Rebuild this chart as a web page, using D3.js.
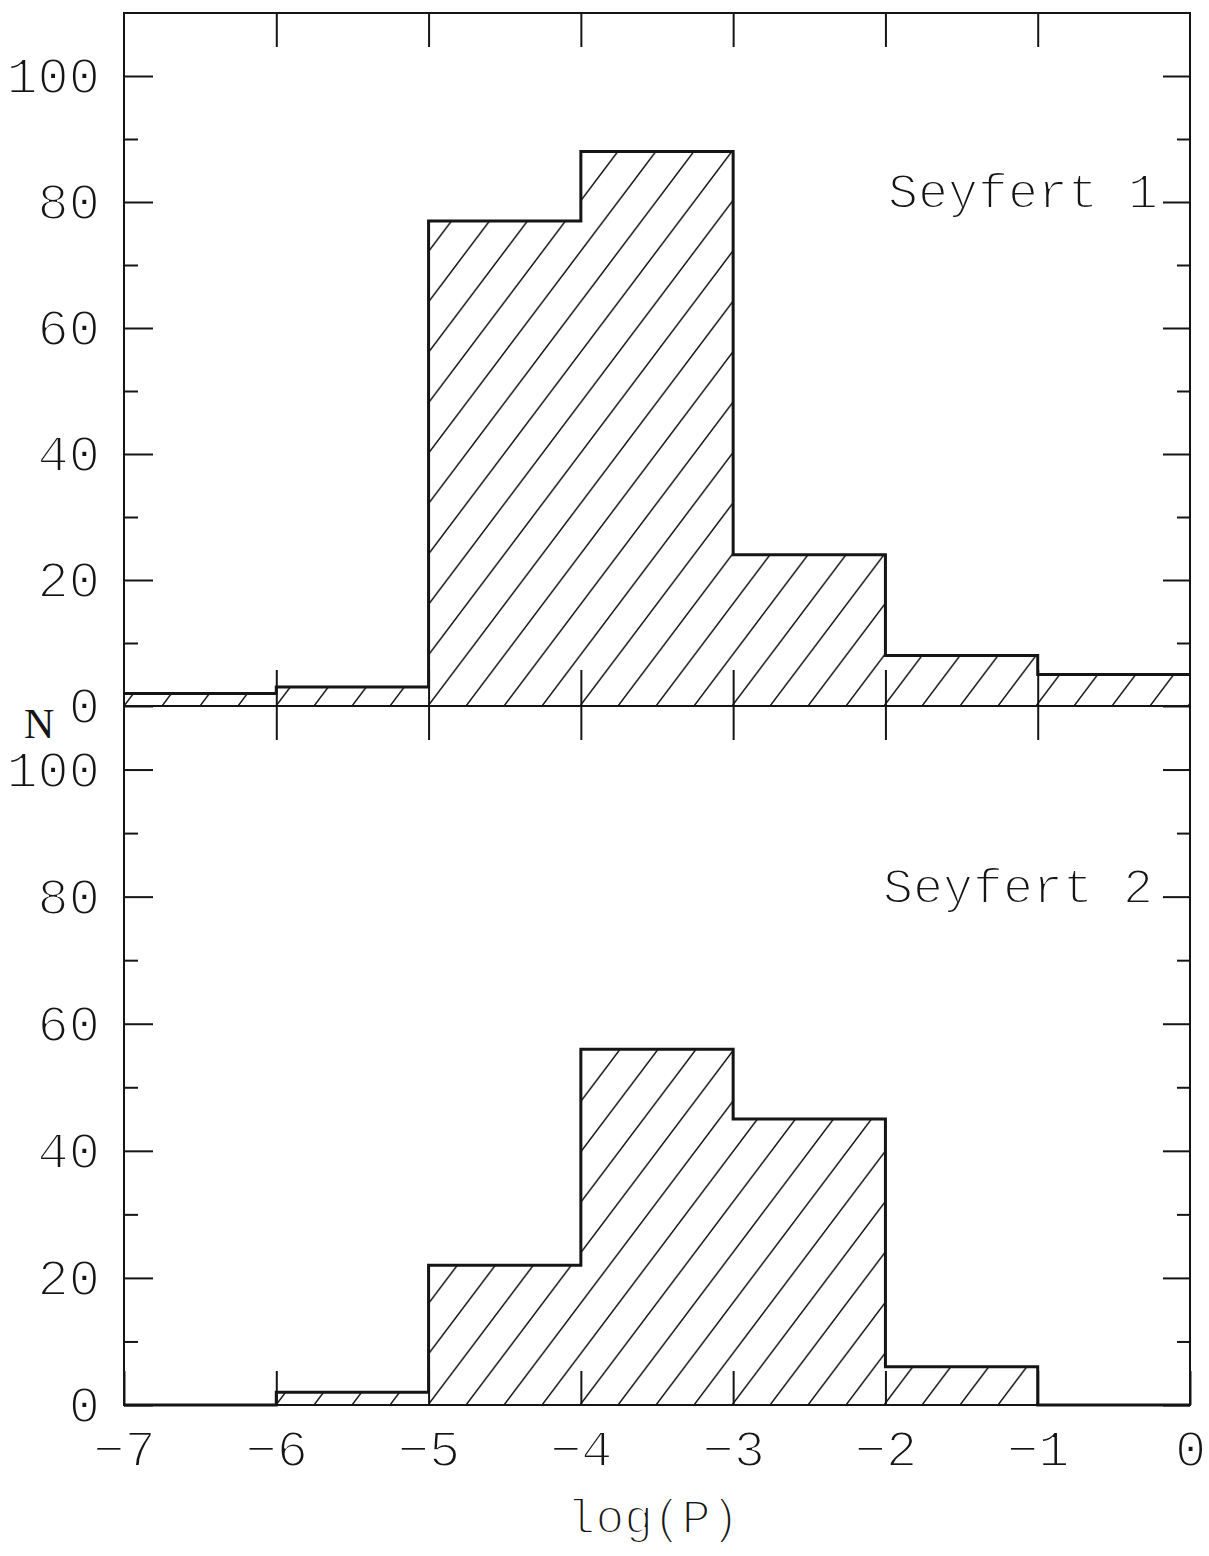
<!DOCTYPE html>
<html>
<head>
<meta charset="utf-8">
<script src="https://cdn.jsdelivr.net/npm/d3@7"></script>
<style>
  html, body { margin: 0; padding: 0; background: #fff; }
  svg { display: block; }
  .thin { stroke: #fff; stroke-width: 2px; paint-order: fill; }
</style>
</head>
<body>
<svg id="chart" width="1209" height="1556"></svg>
<script>
// ---- data ----
const binEdges = [-7, -6, -5, -4, -3, -2, -1, 0];
const seyfert1 = [2, 3, 77, 88, 24, 8, 5];
const seyfert2 = [0, 2, 22, 56, 45, 6, 0];
const panelNames = ["Seyfert 1", "Seyfert 2"];
const xTickValues = [-7, -6, -5, -4, -3, -2, -1, 0];
const xInnerTicks = [-6, -5, -4, -3, -2, -1];
const yMajor = [0, 20, 40, 60, 80, 100];
const yMinor = [10, 30, 50, 70, 90];
const xLabel = "log(P)";
const yLabel = "N";

// ---- layout ----
const W = 1209, H = 1556;
const left = 124, right = 1190;
const panels = [
  { name: panelNames[0], values: seyfert1, top: 13, bottom: 706, labelX: 888, labelY: 208, showX: false },
  { name: panelNames[1], values: seyfert2, top: 706, bottom: 1405, labelX: 883, labelY: 903, showX: true }
];
const ink = "#151515";
const font = "'Liberation Mono', 'DejaVu Sans Mono', monospace";

const svg = d3.select("#chart");
svg.append("rect").attr("width", W).attr("height", H).attr("fill", "#fff");
const defs = svg.append("defs");

const x = d3.scaleLinear().domain([-7, 0]).range([left, right]);

// hatch geometry
const hw = 38;
const angle = 53 * Math.PI / 180;
const hh = hw * Math.tan(angle);

panels.forEach((p, i) => {
  const y = d3.scaleLinear().domain([0, 110]).range([p.bottom, p.top]);
  const g = svg.append("g");

  const pid = "hatch" + i;
  const pat = defs.append("pattern")
    .attr("id", pid)
    .attr("patternUnits", "userSpaceOnUse")
    .attr("x", x(-7)).attr("y", y(0) - hh)
    .attr("width", hw).attr("height", hh);
  pat.append("path")
    .attr("d", `M0,${hh} L${hw},0 M${-hw},${hh} L${hw},${-hh} M0,${2*hh} L${2*hw},0`)
    .attr("stroke", ink).attr("stroke-width", 1.5).attr("fill", "none");

  const pts = p.values.map((v, k) => [binEdges[k], v]);
  pts.push([binEdges[binEdges.length - 1], p.values[p.values.length - 1]]);

  const area = d3.area()
    .x(d => x(d[0])).y0(y(0)).y1(d => y(d[1]))
    .curve(d3.curveStepAfter);
  const line = d3.line()
    .x(d => x(d[0])).y(d => y(d[1]))
    .curve(d3.curveStepAfter);

  g.append("path").datum(pts)
    .attr("d", area)
    .attr("fill", `url(#${pid})`);
  g.append("path").datum(pts)
    .attr("d", line)
    .attr("fill", "none").attr("stroke", ink).attr("stroke-width", 3)
    .attr("stroke-linejoin", "miter");

  const styleAxis = (sel) => {
    sel.select(".domain").remove();
    sel.selectAll(".tick line").attr("stroke", ink).attr("stroke-width", 2);
    sel.selectAll(".tick text")
      .attr("fill", ink)
      .attr("class", "thin")
      .style("font-family", font)
      .style("font-size", "52px");
    sel.attr("font-family", null).attr("font-size", null);
  };

  g.append("g").attr("transform", `translate(${left},0)`)
    .call(d3.axisLeft(y).tickValues(yMajor).tickSize(-29).tickPadding(24).tickFormat(d3.format("d")))
    .call(styleAxis);
  g.append("g").attr("transform", `translate(${left},0)`)
    .call(d3.axisLeft(y).tickValues(yMinor).tickSize(-14).tickFormat(""))
    .call(styleAxis);
  g.append("g").attr("transform", `translate(${right},0)`)
    .call(d3.axisRight(y).tickValues(yMajor).tickSize(-27).tickFormat(""))
    .call(styleAxis);
  g.append("g").attr("transform", `translate(${right},0)`)
    .call(d3.axisRight(y).tickValues(yMinor).tickSize(-13).tickFormat(""))
    .call(styleAxis);
  g.append("g").attr("transform", `translate(0,${p.top})`)
    .call(d3.axisTop(x).tickValues(xInnerTicks).tickSize(-34).tickFormat(""))
    .call(styleAxis);
  if (p.showX) {
    g.append("g").attr("transform", `translate(0,${p.bottom})`)
      .call(d3.axisBottom(x).tickValues(xTickValues).tickSize(-34).tickPadding(24).tickFormat(d3.format("d")))
      .call(styleAxis);
  } else {
    g.append("g").attr("transform", `translate(0,${p.bottom})`)
      .call(d3.axisBottom(x).tickValues(xInnerTicks).tickSize(-36).tickFormat(""))
      .call(styleAxis);
  }

  g.append("rect")
    .attr("x", left).attr("y", p.top)
    .attr("width", right - left).attr("height", p.bottom - p.top)
    .attr("fill", "none").attr("stroke", ink).attr("stroke-width", 2);

  g.append("text")
    .attr("x", p.labelX).attr("y", p.labelY)
    .attr("fill", ink)
    .attr("class", "thin")
    .style("font-family", font).style("font-size", "50px")
    .text(p.name);
});

svg.append("text")
  .attr("x", 24).attr("y", 738)
  .attr("fill", ink)
  .style("font-family", "'Liberation Serif', serif").style("font-size", "42px")
  .text(yLabel);
svg.append("text")
  .attr("x", 653).attr("y", 1533)
  .attr("text-anchor", "middle")
  .attr("fill", ink)
  .attr("class", "thin")
  .style("font-family", font).style("font-size", "48px")
  .text(xLabel);
</script>
</body>
</html>
